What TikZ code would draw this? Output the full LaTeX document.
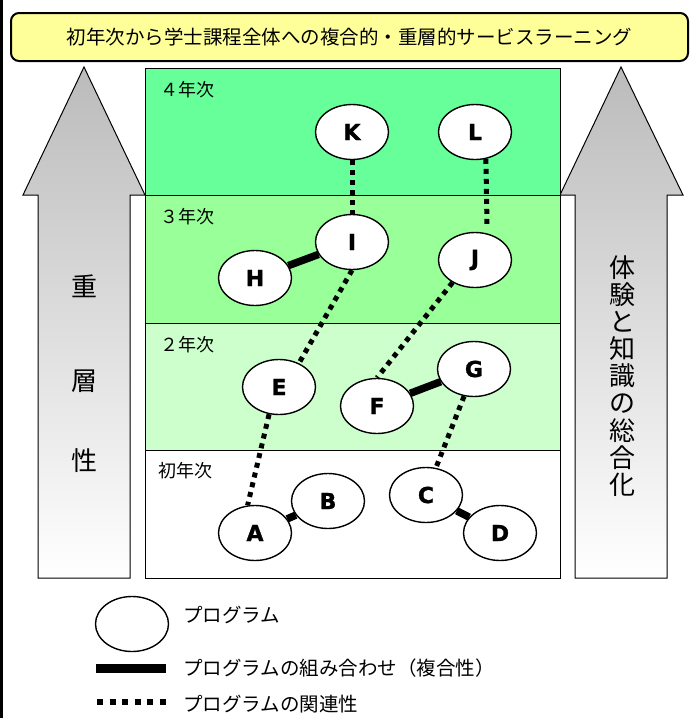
\documentclass[tikz,border=0pt]{standalone}
\usepackage{fontspec}
\newfontfamily\jp{Noto Sans CJK JP}
\newfontfamily\heavy{DejaVu Sans Bold}[FakeBold=1.2]
\usetikzlibrary{shapes.geometric}
\definecolor{titleyellow}{HTML}{FFFF99}
\definecolor{bandfour}{HTML}{66FF99}
\definecolor{bandthree}{HTML}{99FF99}
\definecolor{bandtwo}{HTML}{CCFFCC}
\definecolor{arrowgray}{HTML}{BBBBBB}
\begin{document}
\begin{tikzpicture}[x=1pt,y=-1pt,
  prog/.style={ellipse, draw=black, line width=1.4pt, fill=white, minimum width=73pt, minimum height=55pt, inner sep=0pt, font=\heavy\fontsize{22}{22}\selectfont},
  combo/.style={line width=7.5pt},
  rel/.style={line width=5pt, dash pattern=on 5pt off 5pt},
  band/.style={draw=black, line width=1pt},
  year/.style={anchor=west, inner sep=0pt, font=\jp\fontsize{18}{18}\selectfont},
  uparrow/.style={draw=black, line width=1pt, top color=arrowgray, bottom color=white},
  arrowtext/.style={inner sep=0pt, font=\jp\fontsize{26}{27.1}\selectfont, align=center},
  legtext/.style={anchor=west, inner sep=0pt, font=\jp\fontsize{19.5}{19.5}\selectfont}
]
\useasboundingbox (0,0) rectangle (690,718);
\fill[white] (0,0) rectangle (690,718);
\fill[black] (0,0) rectangle (3,718);

% side arrows
\path[uparrow] (84,67) -- (145,195) -- (130,195) -- (130,578) -- (38,578) -- (38,195) -- (23,195) -- cycle;
\path[uparrow] (621,67) -- (683,195) -- (667,195) -- (667,578) -- (575,578) -- (575,195) -- (560,195) -- cycle;

% year bands
\filldraw[band, fill=bandfour]  (145,68)  rectangle (560,195);
\filldraw[band, fill=bandthree] (145,195) rectangle (560,323);
\filldraw[band, fill=bandtwo]   (145,323) rectangle (560,450);
\filldraw[band, fill=white]     (145,450) rectangle (560,578);

\node[year] (y4) at (160,90) {４年次};
\node[year] (y3) at (160,217) {３年次};
\node[year] (y2) at (160,345) {２年次};
\node[year] (y1) at (158,471) {初年次};

% title
\node (title) [draw=black, line width=2pt, rounded corners=8pt, fill=titleyellow,
  minimum width=677pt, minimum height=48pt, inner sep=0pt,
  font=\jp\fontsize{19.5}{19.5}\selectfont] at (349.5,37)
  {初年次から学士課程全体への複合的・重層的サービスラーニング};

% arrow texts
\node[arrowtext] (t1) at (84,286) {重};
\node[arrowtext] (t2) at (84,381) {層};
\node[arrowtext] (t3) at (84,461) {性};
\node[arrowtext] (synth) at (622,376) {体\\験\\と\\知\\識\\の\\総\\合\\化};

% programs
\node[prog] (K) at (352,132) {K};
\node[prog] (L) at (475,132) {L};
\node[prog] (I) at (352,242) {I};
\node[prog] (J) at (475,260) {J};
\node[prog] (H) at (255,278) {H};
\node[prog] (E) at (279,387) {E};
\node[prog] (F) at (377,406) {F};
\node[prog] (G) at (474,369) {G};
\node[prog] (A) at (255,533) {A};
\node[prog] (B) at (328,501) {B};
\node[prog] (C) at (426,495) {C};
\node[prog] (D) at (500,533) {D};

% combinations
\draw[combo] (H) -- (I);
\draw[combo] (F) -- (G);
\draw[combo] (A) -- (B);
\draw[combo] (C) -- (D);

% relations
\coordinate (Lend) at (487,225);
\draw[rel] (K.south) -- (I.north);
\draw[rel] (L.-68) -- (Lend);
\draw[rel] (I.south) -- (E.50);
\draw[rel] (J.-135) -- (F.north);
\draw[rel] (E.-110) -- (A.105);
\draw[rel] (G.-110) -- (C.70);

% legend
\node[prog] (legprog) at (132,624) {};
\node[legtext] (legprogt) at (183,615) {プログラム};
\coordinate (lc1) at (96,668);
\coordinate (lc2) at (166,668);
\draw[line width=9pt] (lc1) -- (lc2);
\node[legtext] (legcombt) at (183,668) {プログラムの組み合わせ（複合性）};
\coordinate (lr1) at (97,702);
\coordinate (lr2) at (166,702);
\draw[line width=5.5pt, dash pattern=on 6pt off 6.5pt] (lr1) -- (lr2);
\node[legtext] (legrelt) at (183,704) {プログラムの関連性};
\end{tikzpicture}
\end{document}
